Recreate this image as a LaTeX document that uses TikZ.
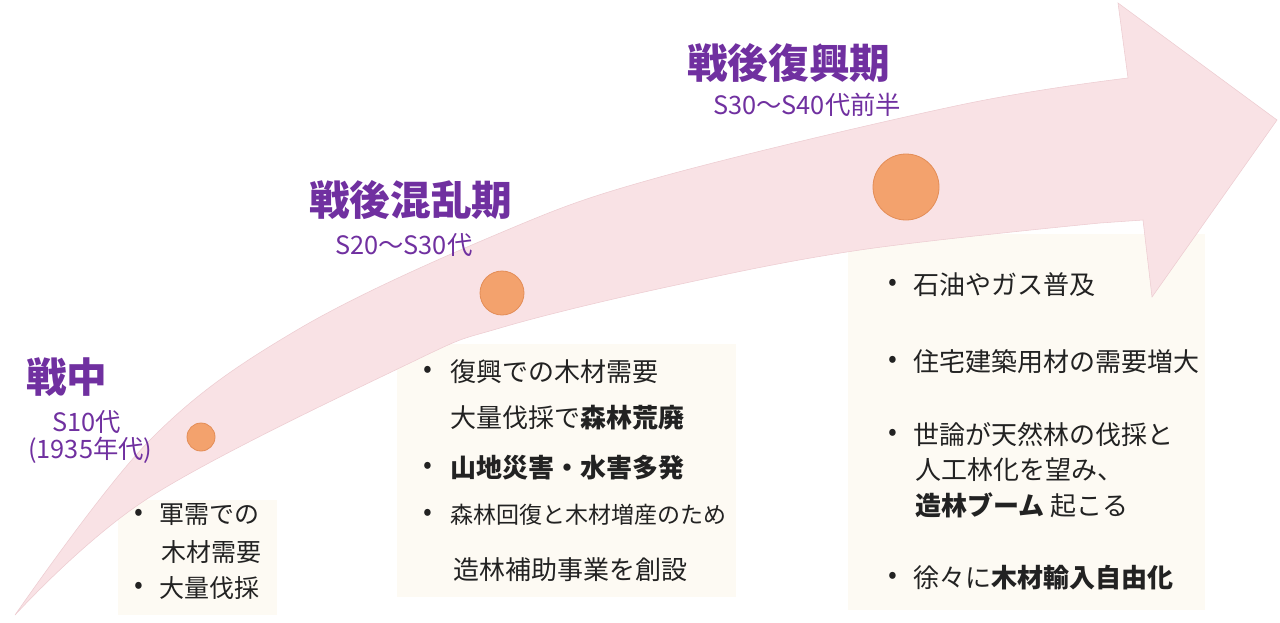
\documentclass[tikz,border=0pt]{standalone}
\usepackage{fontspec}
\newfontfamily\jp{Noto Sans CJK JP}
\definecolor{arrowpink}{HTML}{F9E2E5}
\definecolor{arrowedge}{HTML}{EDCCD1}
\definecolor{boxcream}{HTML}{FDFAF3}
\definecolor{titlepurple}{HTML}{7030A0}
\definecolor{dotfill}{HTML}{F3A26D}
\definecolor{dotedge}{HTML}{E38D57}
\definecolor{bodytext}{HTML}{222222}
\tikzset{
  title/.style={font=\jp\bfseries\fontsize{30.5pt}{36pt}\selectfont, text=titlepurple, anchor=west, inner sep=0pt},
  sub/.style={font=\jp\fontsize{19pt}{23pt}\selectfont, text=titlepurple, anchor=west, inner sep=0pt},
  body/.style={font=\jp\fontsize{19.5pt}{24pt}\selectfont, text=bodytext, anchor=west, inner sep=0pt},
  bodysmall/.style={body, font=\jp\fontsize{17.25pt}{21pt}\selectfont},
  bodyone/.style={body, font=\jp\fontsize{18.75pt}{23pt}\selectfont},
  bul/.style={font=\jp\fontsize{19.5pt}{24pt}\selectfont, text=bodytext, anchor=center, inner sep=0pt},
  cream/.style={fill=boxcream, draw=none},
  dot/.style={circle, fill=dotfill, draw=dotedge, line width=0.6pt, inner sep=0pt},
}
\begin{document}
\begin{tikzpicture}[x=0.75pt,y=-0.75pt]
\useasboundingbox[fill=white] (0,0) rectangle (1280,622);
% text boxes
\path[cream] (118,500) rectangle (277,615);
\path[cream] (397,344) rectangle (736,597);
\path[cream] (848,234) rectangle (1205,610);
% big curved arrow
\path[fill=arrowpink, draw=arrowedge, line width=0.4pt]
  plot[smooth, tension=0.6] coordinates {(15,615) (150,440) (297,330) (500,233) (660,177) (960,105) (1128,78)}
  -- (1118,3) -- (1277,120) -- (1152,297) -- (1143,220)
  -- plot[smooth, tension=0.6] coordinates {(1100,223) (860,250) (667,287) (500,328) (410,363) (150,497) (15,615)}
  -- cycle;
% dots
\node[dot, minimum size=21pt] (dot1) at (201,437) {};
\node[dot, minimum size=33pt] (dot2) at (502,293) {};
\node[dot, minimum size=49.5pt] (dot3) at (906,187) {};
% titles
\node[title] (t1) at (26,377) {戦中};
\node[sub] (s1a) at (52,422) {S10代};
\node[sub] (s1b) at (28,450) {(1935年代)};
\node[title] (t2) at (309,200) {戦後混乱期};
\node[sub] (s2) at (335,245) {S20～S30代};
\node[title] (t3) at (687,63) {戦後復興期};
\node[sub] (s3) at (713,105) {S30～S40代前半};
% box 1
\node[bul] (b1a) at (139,515) {•};
\node[bodyone] (l1a) at (159,515) {軍需での};
\node[bodyone] (l1b) at (161,552) {木材需要};
\node[bul] (b1c) at (139,588) {•};
\node[bodyone] (l1c) at (159,588) {大量伐採};
% box 2
\node[bul] (b2a) at (428,372) {•};
\node[body] (l2a) at (450,372) {復興での木材需要};
\node[body] (l2b) at (450,418) {大量伐採で{\bfseries 森林荒廃}};
\node[bul] (b2c) at (428,468) {•};
\node[body] (l2c) at (450,468) {\bfseries 山地災害・水害多発};
\node[bul] (b2d) at (428,515) {•};
\node[bodysmall] (l2d) at (450,515) {森林回復と木材増産のため};
\node[body] (l2e) at (453,570) {造林補助事業を創設};
% box 3
\node[bul] (b3a) at (893,285) {•};
\node[body] (l3a) at (913,285) {石油やガス普及};
\node[bul] (b3b) at (893,362) {•};
\node[body] (l3b) at (913,362) {住宅建築用材の需要増大};
\node[bul] (b3c) at (893,435) {•};
\node[body] (l3c) at (913,435) {世論が天然林の伐採と};
\node[body] (l3d) at (915,470) {人工林化を望み、};
\node[body] (l3e) at (915,505) {{\bfseries 造林ブーム} 起こる};
\node[bul] (b3f) at (893,578) {•};
\node[body] (l3f) at (913,578) {徐々に{\bfseries 木材輸入自由化}};
\end{tikzpicture}
\end{document}
